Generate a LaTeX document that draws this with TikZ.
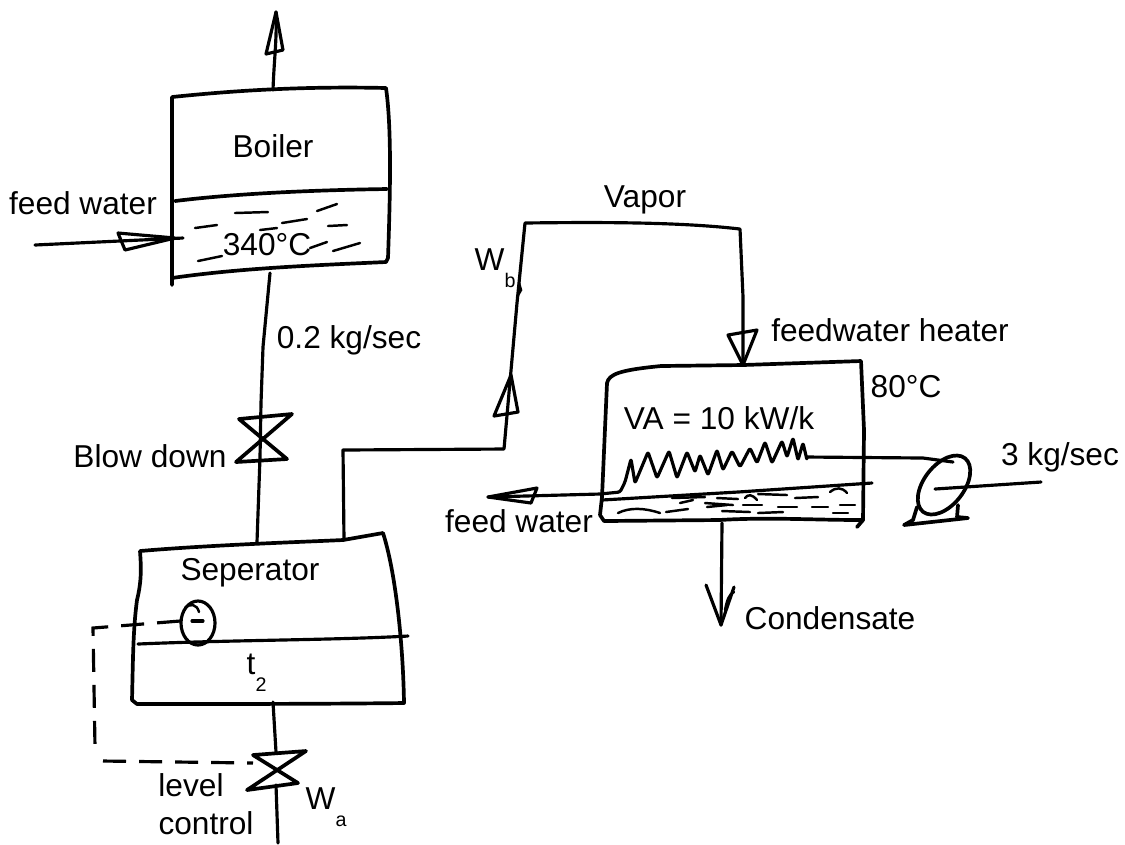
\documentclass[tikz,border=0pt]{standalone}
\usepackage{fontspec}
\setmainfont{Liberation Sans}
\usepackage{tikz}
\newcommand{\lowsub}[1]{\raisebox{-.55em}{\fontsize{5.6}{6}\selectfont #1}}
\tikzset{
    vessel/.style = {line width = 1.05pt, line cap = round, line join = round},
    pipe/.style = {line width = .9pt, line cap = round, line join = round},
    ripple/.style = {line width = .7pt, line cap = round},
    signal/.style = {line width = .9pt, dash pattern = on .23cm off .13cm},
    lbl/.style = {font = \fontsize{9}{10}\selectfont, inner sep = 0pt}
}

\begin{document}
\begin{tikzpicture}[x = .01cm, y = -.01cm]
    \useasboundingbox (0,0) rectangle (1125,844);
    % Connection points
    \coordinate (boilerTop) at (273,90);
    \coordinate (boilerBottom) at (270,273);
    \coordinate (boilerInlet) at (183,238);
    \coordinate (steamOut) at (276,12);
    \coordinate (feedIn) at (35,245);
    \coordinate (sepTopA) at (257,542);
    \coordinate (sepTopB) at (344,540);
    \coordinate (sepBottom) at (273,702);
    \coordinate (drainEnd) at (278,843);
    \coordinate (heaterTop) at (743,365);
    \coordinate (heaterBottom) at (722,523);
    \coordinate (condEnd) at (721,625);
    \coordinate (coilIn) at (600,494);
    \coordinate (coilOut) at (807,457);
    \coordinate (feedOut) at (488,497);
    \coordinate (pumpC) at (944,485);
    \coordinate (pumpIn) at (953,462);
    \coordinate (shaftEnd) at (1041,482);
    % Boiler
    \draw[vessel] (172,285) -- (172,97) .. controls (230,91) and (300,86) .. (386,88)
        .. controls (392,130) and (390,200) .. (388,258) -- (386,262)
        .. controls (320,265) and (240,268) .. (172,278);
    \draw[vessel] (175,201) .. controls (240,193) and (320,190) .. (387,189);
    \foreach \xa/\ya/\xb/\yb in {235/213/268/212, 317/211/337/204, 195/228/217/225,
        282/223/307/219, 260/230/277/228, 328/226/347/225, 198/261/222/256,
        310/248/327/242, 333/251/360/243}
    {
        \draw[ripple] (\xa,\ya) -- (\xb,\yb);
    }
    % Boiler pipes
    \draw[pipe] (boilerTop) .. controls (274,60) and (277,40) .. (steamOut);
    \draw[pipe] (266,54) -- (283,50) -- (steamOut) -- cycle;
    \draw[pipe] (feedIn) -- (boilerInlet);
    \draw[pipe] (118,233) -- (125,250) -- (175,238) -- cycle;
    \draw[pipe] (boilerBottom) -- (263,347) -- (261,403) -- (260,457) -- (sepTopA);
    % Blow down valve
    \draw[vessel] (239,419) -- (292,414) -- (236,462) -- (287,459) -- cycle;
    % Vapor line
    \draw[pipe] (sepTopB) -- (343,450) -- (504,449) -- (517,303) -- (525,223)
        .. controls (600,222) and (680,222) .. (740,229) -- (743,297) -- (heaterTop);
    \draw[pipe] (494,416) -- (511,375) -- (518,412) -- cycle;
    \draw[pipe] (728,335) -- (757,330) -- (heaterTop) -- cycle;
    \draw[ripple] (519,283) -- (521,290) -- (517,297);
    % Separator
    \draw[vessel] (140,551) .. controls (210,545) and (300,542) .. (343,540) -- (383,533)
        .. controls (395,570) and (403,640) .. (404,703)
        .. controls (320,704) and (220,704) .. (137,704) -- (132,700)
        .. controls (133,660) and (133,630) .. (137,600) .. controls (142,580) and (141,565) .. (140,551);
    \draw[pipe] (138,644) .. controls (230,640) and (340,640) .. (408,636);
    \draw[pipe] (198,623) ellipse [x radius = .17cm, y radius = .22cm];
    \draw[ripple] (185,608) .. controls (190,603) and (197,604) .. (199,612);
    \draw[pipe] (192,621) -- (203,621);
    % Level control
    \draw[signal] (180,621) -- (93,628) -- (95,747);
    \draw[signal] (103,761) -- (253,763);
    \draw[pipe] (sepBottom) -- (276,752);
    \draw[vessel] (253,755) -- (306,751) -- (247,790) -- (298,783) -- cycle;
    \draw[pipe] (276,785) -- (drainEnd);
    % Heater
    \draw[vessel] (600,515) -- (602,497) -- (607,383) .. controls (609,374) and (620,370) .. (661,366)
        -- (heaterTop) -- (861,361) -- (864,430) -- (863,520) -- (857,527);
    \draw[vessel] (600,515) -- (604,521) -- (719,520) .. controls (770,517) and (810,520) .. (863,520);
    \draw[pipe] (602,500) -- (738,492) -- (872,483);
    \foreach \xa/\ya/\xb/\yb in {666/512/688/509, 672/498/705/497, 680/503/693/500,
        705/503/733/505, 707/507/727/505, 717/498/738/499, 722/511/750/512, 743/505/762/505,
        758/494/787/495, 758/513/783/512, 778/507/797/507, 795/498/818/497, 812/507/828/507,
        840/505/855/505, 833/513/848/513}
    {
        \draw[ripple] (\xa,\ya) -- (\xb,\yb);
    }
    \draw[ripple] (618,513) .. controls (630,507) and (645,508) .. (660,513);
    \draw[ripple] (745,498) .. controls (748,494) and (752,494) .. (757,500);
    \draw[ripple] (830,492) .. controls (836,487) and (842,487) .. (847,493);
    % Coil
    \draw[pipe, rounded corners = .6pt] (feedOut) -- (coilIn) -- (620,492) -- (625,482) -- (631,459)
        -- (635,483) -- (648,452) -- (657,478) -- (669,451) -- (677,478) -- (687,452)
        -- (695,472) -- (700,455) -- (708,475) -- (717,450) -- (723,470) -- (732,451)
        -- (740,467) -- (750,448) -- (757,463) -- (765,442) -- (772,463) -- (782,441)
        -- (787,457) -- (793,438) -- (798,460) -- (803,443) -- (807,460) -- (coilOut);
    \draw[pipe] (coilOut) -- (923,458) -- (pumpIn);
    \draw[pipe] (feedOut) -- (537,488) -- (531,503) -- cycle;
    % Condensate
    \draw[pipe] (heaterBottom) -- (condEnd);
    \draw[pipe] (706,585) -- (condEnd) -- (734,587);
    \draw[ripple] (725,610) .. controls (727,600) and (729,594) .. (734,592);
    % Pump
    \draw[vessel] (pumpC) ellipse [x radius = .34cm, y radius = .2cm, rotate = 52];
    \draw[pipe] (935,489) -- (shaftEnd);
    \draw[vessel] (917,507) -- (913,520) -- (904,525) -- (968,518) -- (957,517) -- (958,505);
    % Labels
    \node[lbl] (lblBoiler) at (273,146) {Boiler};
    \node[lbl] (lblFeedIn) at (83,203) {feed water};
    \node[lbl] (lblTempA) at (267,245) {340°C};
    \node[lbl] (lblFlowA) at (349,340) {0.2 kg/sec};
    \node[lbl] (lblBlow) at (150,456) {Blow down};
    \node[lbl] (lblVapor) at (645,200) {Vapor};
    \node[lbl, anchor = west] (lblWb) at (474,268) {W\lowsub{b}};
    \node[lbl] (lblHeater) at (890,330) {feedwater heater};
    \node[lbl] (lblTempB) at (906,387) {80°C};
    \node[lbl] (lblVA) at (719,418) {VA = 10 kW/k};
    \node[lbl] (lblFeedOut) at (519,521) {feed water};
    \node[lbl] (lblFlowB) at (1060,457) {3 kg/sec};
    \node[lbl] (lblCond) at (830,618) {Condensate};
    \node[lbl] (lblSep) at (250,573) {Seperator};
    \node[lbl, anchor = west] (lblTwo) at (246,673) {t\lowsub{2}};
    \node[lbl] (lblLevel) at (191,785) {level};
    \node[lbl] (lblControl) at (206,823) {control};
    \node[lbl, anchor = west] (lblWa) at (305,807) {W\lowsub{a}};
\end{tikzpicture}
\end{document}
